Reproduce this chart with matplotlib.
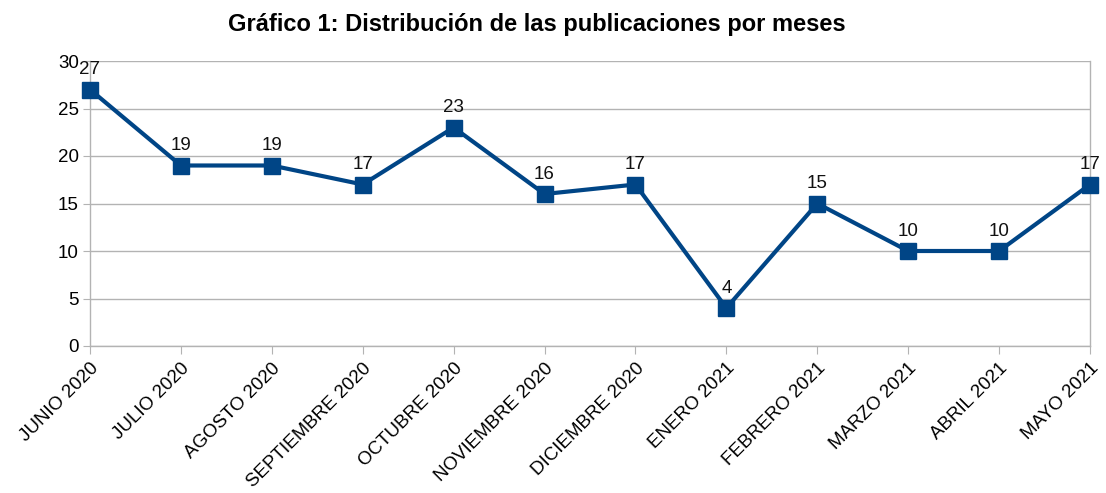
import matplotlib
matplotlib.use("Agg")
import matplotlib.pyplot as plt

months = ["JUNIO 2020", "JULIO 2020", "AGOSTO 2020", "SEPTIEMBRE 2020", "OCTUBRE 2020",
          "NOVIEMBRE 2020", "DICIEMBRE 2020", "ENERO 2021", "FEBRERO 2021", "MARZO 2021",
          "ABRIL 2021", "MAYO 2021"]
values = [27, 19, 19, 17, 23, 16, 17, 4, 15, 10, 10, 17]
yticks = [0, 5, 10, 15, 20, 25, 30]

plt.rcParams['font.family'] = ['Liberation Sans', 'DejaVu Sans']

fig = plt.figure(figsize=(11.06, 4.93), dpi=100)
ax = fig.add_axes([90/1106, 1-346/493, 1000/1106, 285/493])

color = "#004586"
x = list(range(len(months)))
ax.plot(x, values, color=color, linewidth=3, marker="s", markersize=11, zorder=3, clip_on=False)
for xi, v in zip(x, values):
    ax.annotate(str(v), (xi, v), textcoords="offset points", xytext=(0, 8),
                ha="center", va="bottom", fontsize=13.5, color="#111111")

ax.set_xlim(0, len(months)-1)
ax.set_ylim(0, 30)
ax.set_yticks(yticks)
ax.set_xticks(x)
ax.set_xticklabels(months, rotation=45, ha="right", va="top", rotation_mode="anchor", fontsize=13.5)
ax.tick_params(axis="y", labelsize=13.5, length=5, color="#b3b3b3", pad=3)
ax.tick_params(axis="x", length=6, color="#b3b3b3", pad=4)
ax.grid(axis="y", color="#b3b3b3", linewidth=1)
ax.grid(axis="x", visible=False)
ax.set_axisbelow(True)
for s in ["left", "bottom", "right"]:
    ax.spines[s].set_color("#b3b3b3")
    ax.spines[s].set_linewidth(1)
ax.spines["top"].set_visible(False)

fig.suptitle("Gráfico 1: Distribución de las publicaciones por meses", x=537/1106, y=1-25/493,
             va="center", fontsize=17, fontweight="bold")

fig.savefig("out.png", dpi=100, facecolor="white")
